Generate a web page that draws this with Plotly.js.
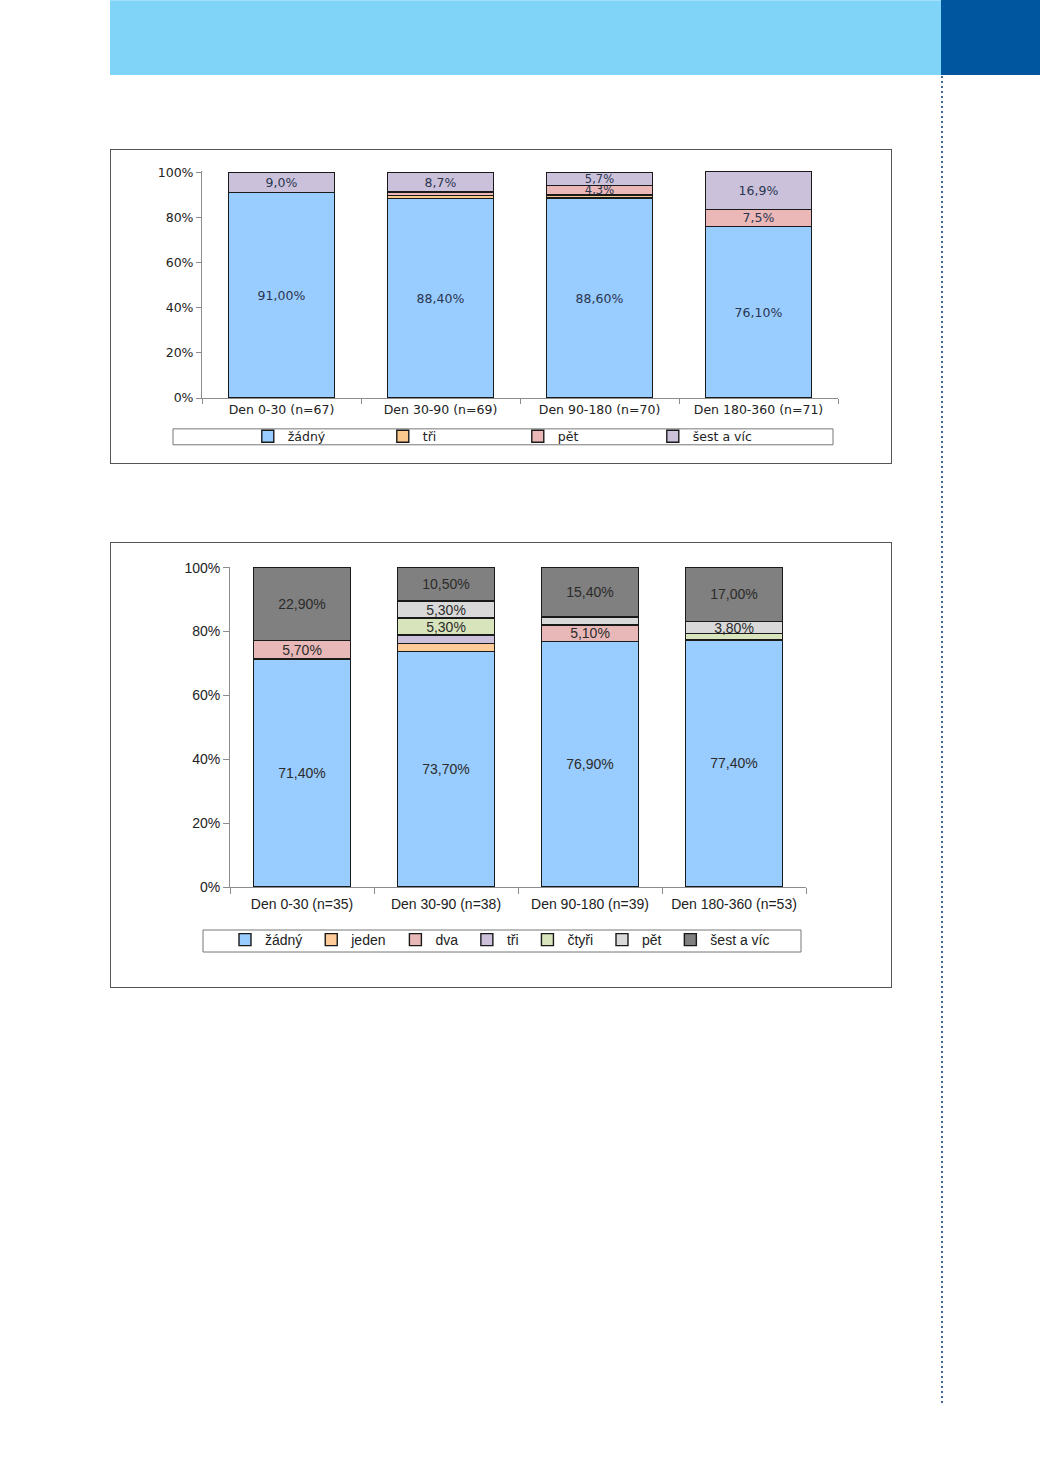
<!DOCTYPE html>
<html>
<head>
<meta charset="utf-8">
<script src="https://cdn.plot.ly/plotly-3.0.1.min.js"></script>
<style>
  html, body { margin:0; padding:0; background:#ffffff; }
  body { width:1040px; height:1471px; position:relative; overflow:hidden; }
  #band { position:absolute; left:110px; top:0; width:831px; height:75px; background:#80d4f7; border-top:1px solid #9fdff9; box-sizing:border-box; }
  #corner { position:absolute; left:941px; top:0; width:99px; height:75px; background:#0057a0; }
  #dots { position:absolute; left:941px; top:76px; width:2px; height:1327px;
          background: repeating-linear-gradient(to bottom, #3d6898 0px, #3d6898 2px, transparent 2px, transparent 5px); }
  .box { position:absolute; left:110px; width:782px; border:1px solid #555; box-sizing:border-box; background:#fff; }
  #chart1 { top:149px; height:315px; }
  #chart2 { top:542px; height:446px; }
</style>
</head>
<body>
<div id="band"></div>
<div id="corner"></div>
<div id="dots"></div>
<div id="chart1" class="box"></div>
<div id="chart2" class="box"></div>
<script>
// ---------- Chart 1 data ----------
var categories1 = ['Den 0-30 (n=67)', 'Den 30-90 (n=69)', 'Den 90-180 (n=70)', 'Den 180-360 (n=71)'];
var seriesNames1 = ['žádný', 'tři', 'pět', 'šest a víc'];
var zadny1 = [91.0, 88.4, 88.6, 76.1];
var tri1   = [0, 1.4, 1.4, 0];
var pet1   = [0, 1.5, 4.3, 7.5];
var sest1  = [9.0, 8.7, 5.7, 16.9];
var zadnyLabels1 = ['91,00%', '88,40%', '88,60%', '76,10%'];
var triLabels1   = ['', '', '', ''];
var petLabels1   = ['', '', '4,3%', '7,5%'];
var sestLabels1  = ['9,0%', '8,7%', '5,7%', '16,9%'];
var yTicks = [0, 20, 40, 60, 80, 100];
var yTickLabels = ['0%', '20%', '40%', '60%', '80%', '100%'];

// ---------- Chart 2 data ----------
var categories2 = ['Den 0-30 (n=35)', 'Den 30-90 (n=38)', 'Den 90-180 (n=39)', 'Den 180-360 (n=53)'];
var seriesNames2 = ['žádný', 'jeden', 'dva', 'tři', 'čtyři', 'pět', 'šest a víc'];
var zadny2 = [71.4, 73.7, 76.9, 77.4];
var jeden2 = [0, 2.6, 0, 0];
var dva2   = [5.7, 0, 5.1, 0];
var tri2   = [0, 2.6, 0, 0];
var ctyri2 = [0, 5.3, 0, 1.9];
var pet2   = [0, 5.3, 2.6, 3.8];
var sest2  = [22.9, 10.5, 15.4, 17.0];
var zadnyLabels2 = ['71,40%', '73,70%', '76,90%', '77,40%'];
var jedenLabels2 = ['', '', '', ''];
var dvaLabels2   = ['5,70%', '', '5,10%', ''];
var triLabels2   = ['', '', '', ''];
var ctyriLabels2 = ['', '5,30%', '', ''];
var petLabels2   = ['', '5,30%', '', '3,80%'];
var sestLabels2  = ['22,90%', '10,50%', '15,40%', '17,00%'];

function seg(name, x, y, labels, color, family, size, tcolor, lw) {
  return {
    type: 'bar', name: name, x: x, y: y, text: labels,
    textposition: 'inside', insidetextanchor: 'middle', textangle: 0,
    constraintext: 'none',
    textfont: { family: family, size: size, color: tcolor },
    marker: { color: color, line: { color: '#1a1a1a', width: lw } },
    hoverinfo: 'skip', cliponaxis: false
  };
}

// ---------- Chart 1 ----------
var fam1 = 'DejaVu Sans';
var t1 = '#2a3650';
var traces1 = [
  seg(seriesNames1[0], categories1, zadny1, zadnyLabels1, '#99ccff', fam1, 12.5, t1, 1.4),
  seg(seriesNames1[1], categories1, tri1, triLabels1, '#fbc98e', fam1, 12.5, t1, 1.4),
  seg(seriesNames1[2], categories1, pet1, petLabels1, '#ebb7b7', fam1, [12.5, 12.5, 11.5, 12.5], t1, 1.4),
  seg(seriesNames1[3], categories1, sest1, sestLabels1, '#ccc1da', fam1, [12.5, 12.5, 11.5, 12.5], t1, 1.4)
];
var layout1 = {
  width: 780, height: 313,
  margin: { l: 91, r: 53, t: 21, b: 64 },
  paper_bgcolor: '#ffffff', plot_bgcolor: '#ffffff',
  barmode: 'stack', bargap: 0.33,
  font: { family: fam1, size: 12.5, color: '#222' },
  showlegend: true,
  legend: {
    orientation: 'h', x: 0.072, xanchor: 'left', y: -0.165, yanchor: 'middle',
    font: { family: fam1, size: 12.5, color: '#222' },
    entrywidth: 90, entrywidthmode: 'pixels', traceorder: 'normal',
    bgcolor: 'rgba(0,0,0,0)', borderwidth: 0
  },
  xaxis: {
    type: 'category', showgrid: false, zeroline: false,
    showline: true, linecolor: '#8c8c8c', linewidth: 1,
    ticks: 'outside', tickson: 'boundaries', ticklen: 5, tickcolor: '#8c8c8c',
    tickfont: { family: fam1, size: 12.5, color: '#222' }
  },
  yaxis: {
    range: [0, 100.6], showgrid: false, zeroline: false,
    showline: true, linecolor: '#8c8c8c', linewidth: 1,
    ticks: 'outside', ticklen: 5, tickcolor: '#8c8c8c',
    tickmode: 'array', tickvals: yTicks, ticktext: yTickLabels,
    tickfont: { family: fam1, size: 12.5, color: '#222' }
  },
  shapes: [{
    type: 'rect', xref: 'paper', yref: 'paper',
    x0: (62 - 91) / 636, x1: (722 - 91) / 636,
    y0: (249 - 296) / 228, y1: (249 - 280) / 228,
    line: { color: '#777', width: 1 }, fillcolor: 'rgba(0,0,0,0)', layer: 'below'
  }]
};
Plotly.newPlot('chart1', traces1, layout1, { staticPlot: true, displayModeBar: false });

// ---------- Chart 2 ----------
var fam2 = 'Liberation Sans';
var t2 = '#2b2b2b';
var pad = '\u00a0';
var traces2 = [
  seg(seriesNames2[0] + pad, categories2, zadny2, zadnyLabels2, '#99ccff', fam2, 14, t2, 1.4),
  seg(seriesNames2[1] + pad, categories2, jeden2, jedenLabels2, '#ffcc99', fam2, 14, t2, 1.4),
  seg(seriesNames2[2] + pad, categories2, dva2, dvaLabels2, '#e8b8b8', fam2, 14, t2, 1.4),
  seg(seriesNames2[3] + pad, categories2, tri2, triLabels2, '#ccc0da', fam2, 14, t2, 1.4),
  seg(seriesNames2[4] + pad, categories2, ctyri2, ctyriLabels2, '#d8e4bc', fam2, 14, t2, 1.4),
  seg(seriesNames2[5] + pad, categories2, pet2, petLabels2, '#d9d9d9', fam2, 14, t2, 1.4),
  seg(seriesNames2[6], categories2, sest2, sestLabels2, '#808080', fam2, 14, t2, 1.4)
];
var layout2 = {
  width: 780, height: 444,
  margin: { l: 119, r: 85, t: 24, b: 100 },
  paper_bgcolor: '#ffffff', plot_bgcolor: '#ffffff',
  barmode: 'stack', bargap: 0.33,
  font: { family: fam2, size: 14, color: '#222' },
  showlegend: true,
  legend: {
    orientation: 'h', x: (114 - 119) / 576, xanchor: 'left', y: (344 - 397) / 320, yanchor: 'middle',
    font: { family: fam2, size: 14, color: '#222' },
    traceorder: 'normal', itemwidth: 30,
    bgcolor: 'rgba(0,0,0,0)', borderwidth: 0
  },
  xaxis: {
    type: 'category', showgrid: false, zeroline: false,
    showline: true, linecolor: '#8c8c8c', linewidth: 1,
    ticks: 'outside', tickson: 'boundaries', ticklen: 6, tickcolor: '#8c8c8c',
    ticklabelstandoff: 4,
    tickfont: { family: fam2, size: 14, color: '#222' }
  },
  yaxis: {
    range: [0, 100.2], showgrid: false, zeroline: false,
    showline: true, linecolor: '#8c8c8c', linewidth: 1,
    ticks: 'outside', ticklen: 6, tickcolor: '#8c8c8c',
    tickmode: 'array', tickvals: yTicks, ticktext: yTickLabels,
    tickfont: { family: fam2, size: 14, color: '#222' }
  },
  shapes: [{
    type: 'rect', xref: 'paper', yref: 'paper',
    x0: (92 - 119) / 576, x1: (690 - 119) / 576,
    y0: (344 - 409) / 320, y1: (344 - 387) / 320,
    line: { color: '#777', width: 1 }, fillcolor: 'rgba(0,0,0,0)', layer: 'below'
  }]
};
Plotly.newPlot('chart2', traces2, layout2, { staticPlot: true, displayModeBar: false });
</script>
</body>
</html>
